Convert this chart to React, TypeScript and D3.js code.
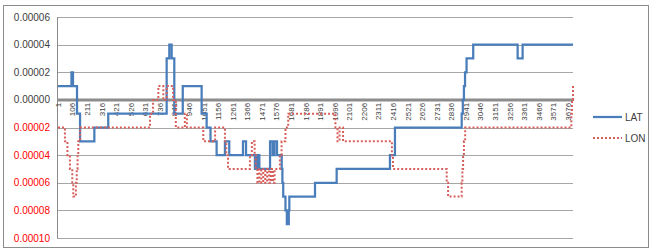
import { useEffect, useRef } from 'react';
import * as d3 from 'd3';

// category labels on the x axis (every 105th row)
const xTickLabels = [
  1, 106, 211, 316, 421, 526, 631, 736, 841, 946, 1051, 1156, 1261, 1366, 1471, 1576, 1681, 1786,
  1891, 1996, 2101, 2206, 2311, 2416, 2521, 2626, 2731, 2836, 2941, 3046, 3151, 3256, 3361, 3466,
  3571, 3676,
];
const pointCount = 3712;

const yTicks = [0.00006, 0.00004, 0.00002, 0, -0.00002, -0.00004, -0.00006, -0.00008, -0.0001];

// step series: [row, value from that row on]
const latSteps: [number, number][] = [
  [1, 1e-5], [98, 2e-5], [109, 1e-5], [138, -1e-5], [160, -3e-5], [263, -2e-5], [363, -1e-5],
  [784, 3e-5], [803, 4e-5], [820, 3e-5], [839, -1e-5], [900, 1e-5], [1036, -1e-5], [1072, -2e-5],
  [1100, -3e-5], [1144, -4e-5], [1204, -3e-5], [1235, -4e-5], [1334, -3e-5], [1356, -4e-5],
  [1420, -5e-5], [1428, -4e-5], [1436, -5e-5], [1444, -4e-5], [1452, -5e-5], [1529, -3e-5],
  [1547, -4e-5], [1561, -3e-5], [1579, -4e-5], [1613, -5e-5], [1618, -6e-5], [1624, -7e-5],
  [1640, -8e-5], [1650, -9e-5], [1656, -8e-5], [1659, -9e-5], [1664, -8e-5], [1668, -7e-5],
  [1853, -6e-5], [2009, -5e-5], [2393, -4e-5], [2429, -2e-5], [2910, -1e-5], [2918, 0],
  [2926, 1e-5], [2934, 2e-5], [2945, 3e-5], [2993, 4e-5], [3313, 3e-5], [3349, 4e-5],
  [3712, 4e-5],
];

const lonSteps: [number, number][] = [
  [1, -2e-5], [51, -3e-5], [69, -4e-5], [87, -5e-5], [104, -6e-5], [111, -7e-5], [130, -6e-5],
  [136, -5e-5], [142, -4e-5], [147, -3e-5], [160, -2e-5], [664, -1e-5], [686, 0], [724, 1e-5],
  [760, 0], [784, 1e-5], [830, 0], [850, -2e-5], [915, -1e-5], [930, -2e-5], [1048, -3e-5],
  [1133, -2e-5], [1204, -3e-5], [1214, -4e-5], [1226, -5e-5], [1384, -4e-5], [1398, -3e-5],
  [1418, -4e-5], [1426, -5e-5], [1438, -6e-5], [1452, -5e-5], [1466, -6e-5], [1480, -5e-5],
  [1494, -6e-5], [1508, -5e-5], [1522, -6e-5], [1536, -5e-5], [1550, -6e-5], [1562, -5e-5],
  [1600, -4e-5], [1612, -3e-5], [1640, -2e-5], [1660, -1e-5],
  [2000, -2e-5], [2015, -3e-5], [2030, -2e-5], [2055, -3e-5], [2407, -4e-5], [2415, -5e-5],
  [2802, -6e-5], [2812, -7e-5], [2910, -6e-5], [2915, -5e-5], [2920, -4e-5], [2926, -3e-5],
  [2935, -2e-5], [3700, -1e-5], [3705, 0], [3712, 1e-5],
];

const series = [
  { name: 'LAT', data: latSteps, color: '#4a7ebb', dash: null },
  { name: 'LON', data: lonSteps, color: '#d65f5b', dash: '2 2' },
];

const App = () => {
  const svgRef = useRef<SVGSVGElement>(null);
  const width = 652;
  const height = 250;

  useEffect(() => {
    const svg = d3.select(svgRef.current);
    svg.selectAll('*').remove();

    const x = d3.scaleLinear().domain([1, pointCount]).range([58, 573]);
    const y = d3.scaleLinear().domain([-0.0001, 0.00006]).range([238, 17]);

    // chart border
    svg.append('rect')
      .attr('x', 3.5).attr('y', 5.5)
      .attr('width', 645).attr('height', 242)
      .attr('fill', 'white')
      .attr('stroke', '#8c8c8c');

    // gridlines
    svg.selectAll('.grid')
      .data(yTicks.filter(d => d !== 0))
      .join('line')
      .attr('class', 'grid')
      .attr('x1', 57).attr('x2', 573)
      .attr('y1', d => Math.round(y(d)) + 0.5)
      .attr('y2', d => Math.round(y(d)) + 0.5)
      .attr('stroke', '#a6a6a6');

    // value axis line
    svg.append('line')
      .attr('x1', 57.5).attr('x2', 57.5)
      .attr('y1', y(0.00006)).attr('y2', y(-0.0001))
      .attr('stroke', '#8c8c8c');

    // y tick labels, negatives in red without sign
    svg.selectAll('.ylab')
      .data(yTicks)
      .join('text')
      .attr('class', 'ylab')
      .attr('x', 50)
      .attr('y', d => y(d))
      .attr('dy', '0.35em')
      .attr('text-anchor', 'end')
      .attr('font-family', 'Liberation Sans, Arial, sans-serif')
      .attr('font-size', 10)
      .attr('fill', d => (d < 0 ? '#ff0000' : '#404040'))
      .text(d => Math.abs(d).toFixed(5));

    // x category labels, rotated
    svg.selectAll('.xlab')
      .data(xTickLabels)
      .join('text')
      .attr('class', 'xlab')
      .attr('transform', d => `translate(${x(d)},${y(0) + 3}) rotate(-90)`)
      .attr('dy', '0.35em')
      .attr('text-anchor', 'end')
      .attr('font-family', 'Liberation Sans, Arial, sans-serif')
      .attr('font-size', 8)
      .attr('fill', '#404040')
      .text(d => d);

    // category axis at zero
    svg.append('line')
      .attr('x1', 57).attr('x2', 573)
      .attr('y1', y(0)).attr('y2', y(0))
      .attr('stroke', '#8c8c8c')
      .attr('stroke-width', 3);

    const line = d3.line<[number, number]>()
      .x(d => x(d[0]))
      .y(d => y(d[1]))
      .curve(d3.curveStepAfter);

    svg.selectAll('.series')
      .data(series)
      .join('path')
      .attr('class', 'series')
      .attr('fill', 'none')
      .attr('stroke', d => d.color)
      .attr('stroke-width', d => (d.dash ? 2 : 2.25))
      .attr('stroke-dasharray', d => d.dash)
      .attr('d', d => line(d.data));

    // legend
    const legend = svg.selectAll('.legend')
      .data(series)
      .join('g')
      .attr('class', 'legend')
      .attr('transform', (d, i) => `translate(593,${117 + i * 21})`);

    legend.append('line')
      .attr('x1', 0).attr('x2', 29)
      .attr('stroke', d => d.color)
      .attr('stroke-width', d => (d.dash ? 2 : 2.25))
      .attr('stroke-dasharray', d => d.dash);

    legend.append('text')
      .attr('x', 32)
      .attr('dy', '0.35em')
      .attr('font-family', 'Liberation Sans, Arial, sans-serif')
      .attr('font-size', 10)
      .attr('fill', '#404040')
      .text(d => d.name);
  }, []);

  return (
    <svg
      ref={svgRef}
      width={width}
      height={height}
      style={{ position: 'absolute', left: 0, top: 0 }}
    />
  );
};

export default App;
